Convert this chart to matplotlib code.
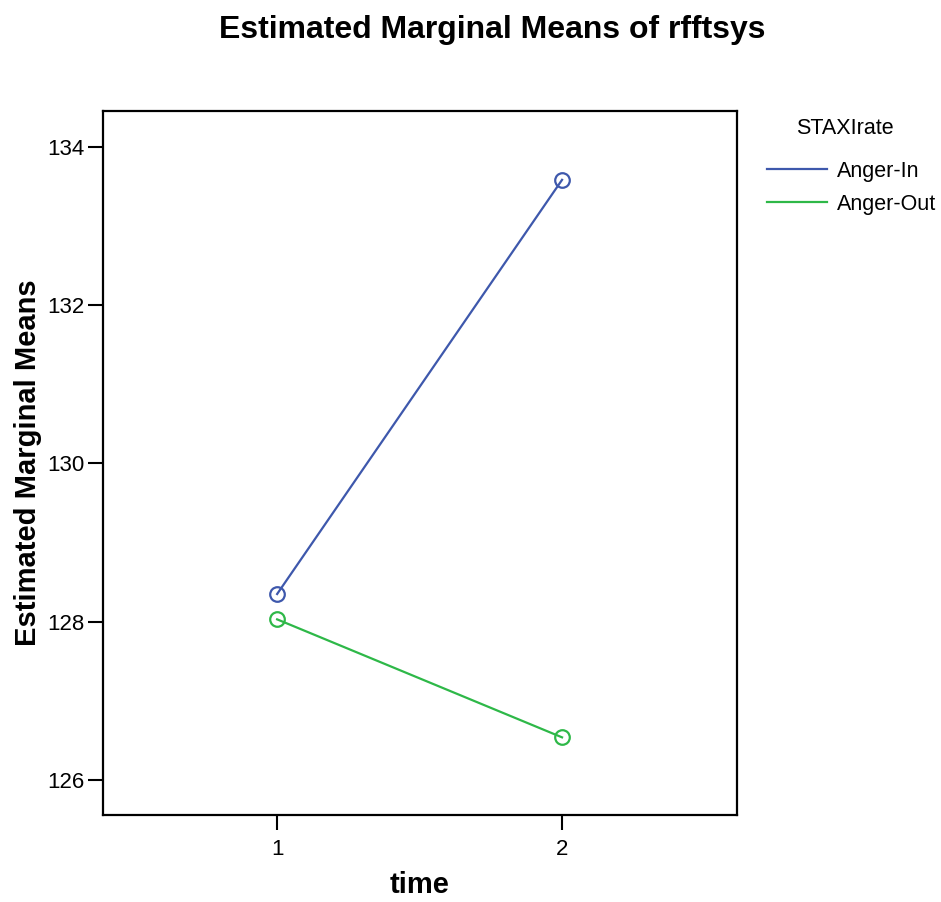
import matplotlib
matplotlib.use('Agg')
import matplotlib.pyplot as plt

plt.rcParams['font.family'] = ['Liberation Sans', 'DejaVu Sans']

time_points = [1, 2]
anger_in = [128.35, 133.58]
anger_out = [128.03, 126.54]
series_names = ['Anger-In', 'Anger-Out']
series_colors = ['#3E58AC', '#2EB848']
y_ticks = [126, 128, 130, 132, 134]

fig = plt.figure(figsize=(9.41, 9.02), dpi=100)
ax = fig.add_axes([0.1095, 0.0965, 0.6737, 0.7805])

for vals, name, col in zip([anger_in, anger_out], series_names, series_colors):
    ax.plot(time_points, vals, color=col, lw=1.6, marker='o', ms=10.5,
            mfc='none', mec=col, mew=1.6, label=name)

ax.set_xlim(0.389, 2.614)
ax.set_ylim(125.56, 134.45)
ax.set_xticks(time_points)
ax.set_yticks(y_ticks)
ax.tick_params(direction='out', length=11, width=1.5, labelsize=16)
ax.tick_params(axis='y', pad=2)
ax.tick_params(axis='x', pad=6)
for s in ax.spines.values():
    s.set_linewidth(1.6)

ax.set_xlabel('time', fontsize=21, fontweight='bold', labelpad=8)
ax.set_ylabel('Estimated Marginal Means', fontsize=21, fontweight='bold', labelpad=4)
fig.text(0.523, 1 - 30 / 902, 'Estimated Marginal Means of rfftsys', fontsize=23,
         fontweight='bold', ha='center', va='center')

# legend title drawn separately, rows below it
fig.text(845 / 941, 1 - 128 / 902, 'STAXIrate', fontsize=15.5, ha='center', va='center')
leg = fig.legend(loc='upper left', bbox_to_anchor=(767 / 941, 1 - 161 / 902), frameon=False,
                 fontsize=15.5, borderpad=0, borderaxespad=0,
                 handlelength=2.78, handletextpad=0.46, labelspacing=0.55)
for h in leg.legend_handles:
    h.set_marker('')

fig.savefig('out.png', dpi=100)
